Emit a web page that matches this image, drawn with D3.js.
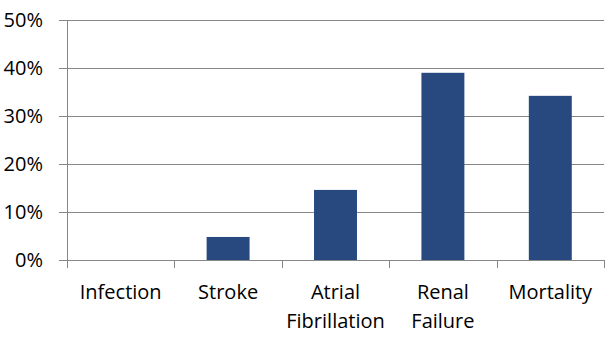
<!DOCTYPE html>
<html>
<head>
<meta charset="utf-8">
<script src="https://cdn.jsdelivr.net/npm/d3@7"></script>
<style>
  body { margin: 0; background: #fff; }
  text { font-family: "Open Sans", sans-serif; fill: #000; }
</style>
</head>
<body>
<svg id="chart" width="612" height="338"></svg>
<script>
// chart data
const categories = [["Infection"], ["Stroke"], ["Atrial", "Fibrillation"], ["Renal", "Failure"], ["Mortality"]];
const values = [0, 0.048, 0.146, 0.39, 0.342];
const yTicks = [0, 0.1, 0.2, 0.3, 0.4, 0.5];

const svg = d3.select('#chart');
const margin = { left: 67, right: 8, top: 20, bottom: 78 };
const width = 612 - margin.left - margin.right;
const height = 338 - margin.top - margin.bottom;

const g = svg.append('g').attr('transform', `translate(${margin.left},${margin.top})`);

const x = d3.scaleBand()
  .domain(d3.range(categories.length))
  .range([0, width])
  .paddingInner(0.6)
  .paddingOuter(0.3);

const y = d3.scaleLinear().domain([0, 0.5]).range([height, 0]);

// gridlines
g.append('g')
  .selectAll('line')
  .data(yTicks.slice(1))
  .enter().append('line')
  .attr('x1', -8).attr('x2', width)
  .attr('y1', d => y(d) + 0.5).attr('y2', d => y(d) + 0.5)
  .attr('stroke', '#868686');

// bars
g.append('g')
  .selectAll('rect')
  .data(values)
  .enter().append('rect')
  .attr('x', (d, i) => x(i))
  .attr('width', x.bandwidth())
  .attr('y', d => y(d))
  .attr('height', d => height - y(d))
  .attr('fill', '#27497f');

// y axis
const yAxis = g.append('g')
  .call(d3.axisLeft(y).tickValues(yTicks).tickFormat(d3.format('.0%')).tickSize(8).tickPadding(16));
yAxis.select('.domain').attr('stroke', '#868686').attr('d', `M0.5,0V${height}`);
yAxis.selectAll('.tick line').attr('stroke', '#868686');
yAxis.selectAll('.tick text').style('font-size', '20px').attr('fill', '#000');

// x axis
const step = width / categories.length;
const xAxis = g.append('g').attr('transform', `translate(0,${height})`);
xAxis.append('line')
  .attr('x1', -8).attr('x2', width)
  .attr('y1', 0.5).attr('y2', 0.5)
  .attr('stroke', '#868686');
xAxis.selectAll('.tk')
  .data(d3.range(categories.length + 1))
  .enter().append('line')
  .attr('class', 'tk')
  .attr('x1', d => Math.round(d * step) + 0.5).attr('x2', d => Math.round(d * step) + 0.5)
  .attr('y1', 0).attr('y2', 8)
  .attr('stroke', '#868686');

const labels = xAxis.selectAll('.lbl')
  .data(categories)
  .enter().append('text')
  .attr('class', 'lbl')
  .attr('text-anchor', 'middle')
  .style('font-size', '20px')
  .attr('transform', (d, i) => `translate(${x(i) + x.bandwidth() / 2},39)`);
labels.selectAll('tspan')
  .data(d => d)
  .enter().append('tspan')
  .attr('x', 0)
  .attr('dy', (d, i) => i === 0 ? 0 : 29)
  .text(d => d);
</script>
</body>
</html>
